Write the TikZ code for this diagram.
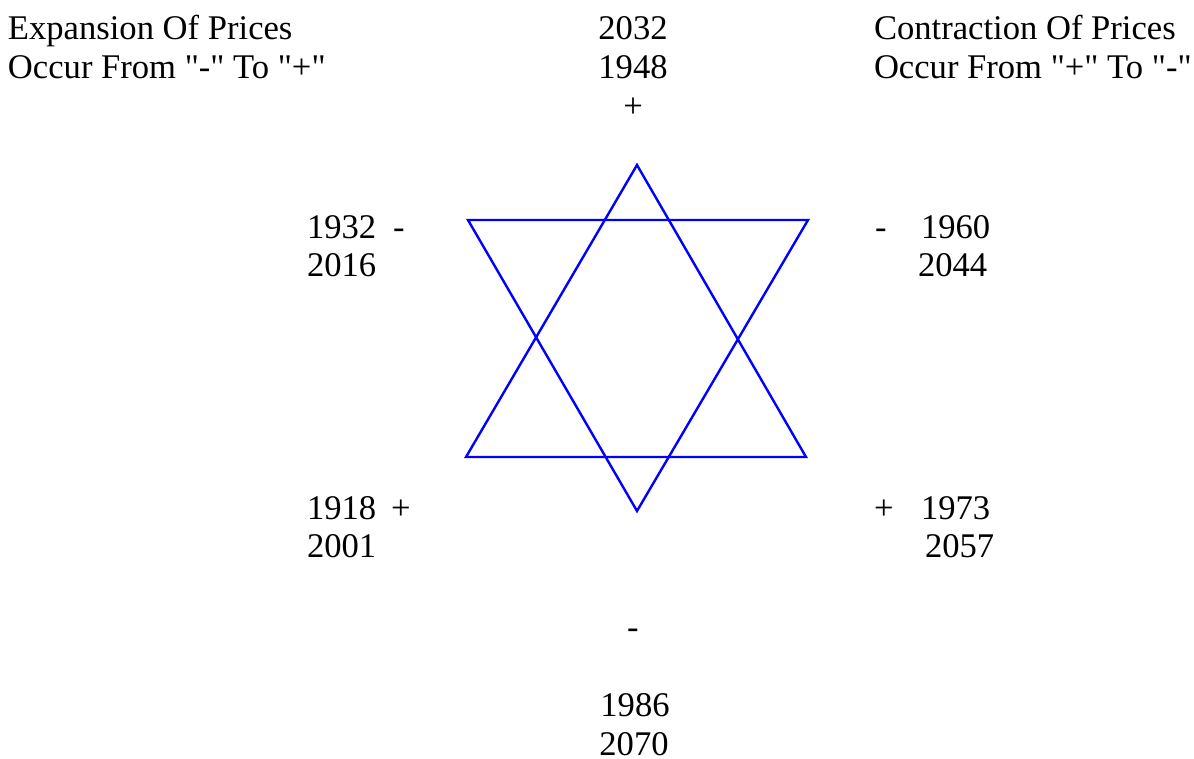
\documentclass[tikz,border=0pt]{standalone}
\usepackage{fontspec}
\setmainfont{Liberation Serif}[Ligatures=TeXOff]
\begin{document}
\begin{tikzpicture}[x=0.5pt,y=-0.5pt,
  lbl/.style={inner sep=0pt,outer sep=0pt,font=\fontsize{17.3}{20}\selectfont},
  lw/.style={lbl,anchor=base west},
  lc/.style={lbl,anchor=base},
  tri/.style={draw=blue,line width=1.2pt,line join=miter}]
\useasboundingbox (0,0) rectangle (1194,759);
% star
\coordinate (ua) at (637,165);
\coordinate (ul) at (466,457);
\coordinate (ur) at (806,457);
\coordinate (dl) at (468,220);
\coordinate (dr) at (808,220);
\coordinate (db) at (637,511);
\draw[tri] (ua) -- (ur) -- (ul) -- cycle;
\draw[tri] (dl) -- (dr) -- (db) -- cycle;
% top texts
\node[lw] (exp1) at (8,40) {Expansion Of Prices};
\node[lw] (exp2) at (8,79) {Occur From "-" To "+"};
\node[lc] (t1) at (633,40) {2032};
\node[lc] (t2) at (633,79) {1948};
\node[lc] (tp) at (633,118) {+};
\node[lw] (con1) at (874,40) {Contraction Of Prices};
\node[lw] (con2) at (874,79) {Occur From "+" To "-"};
% upper left
\node[lw] (ul1) at (307,239) {1932};
\node[lw] (ulm) at (393,239) {-};
\node[lw] (ul2) at (307,277) {2016};
% upper right
\node[lw] (urm) at (875,239) {-};
\node[lw] (ur1) at (921,239) {1960};
\node[lw] (ur2) at (918,277) {2044};
% lower left
\node[lw] (ll1) at (307,519) {1918};
\node[lw] (llp) at (391,519) {+};
\node[lw] (ll2) at (307,557) {2001};
% lower right
\node[lw] (lrp) at (874,519) {+};
\node[lw] (lr1) at (921,519) {1973};
\node[lw] (lr2) at (925,557) {2057};
% bottom
\node[lc] (bm) at (633,638) {-};
\node[lc] (b1) at (635,716) {1986};
\node[lc] (b2) at (634,755) {2070};
\end{tikzpicture}
\end{document}
